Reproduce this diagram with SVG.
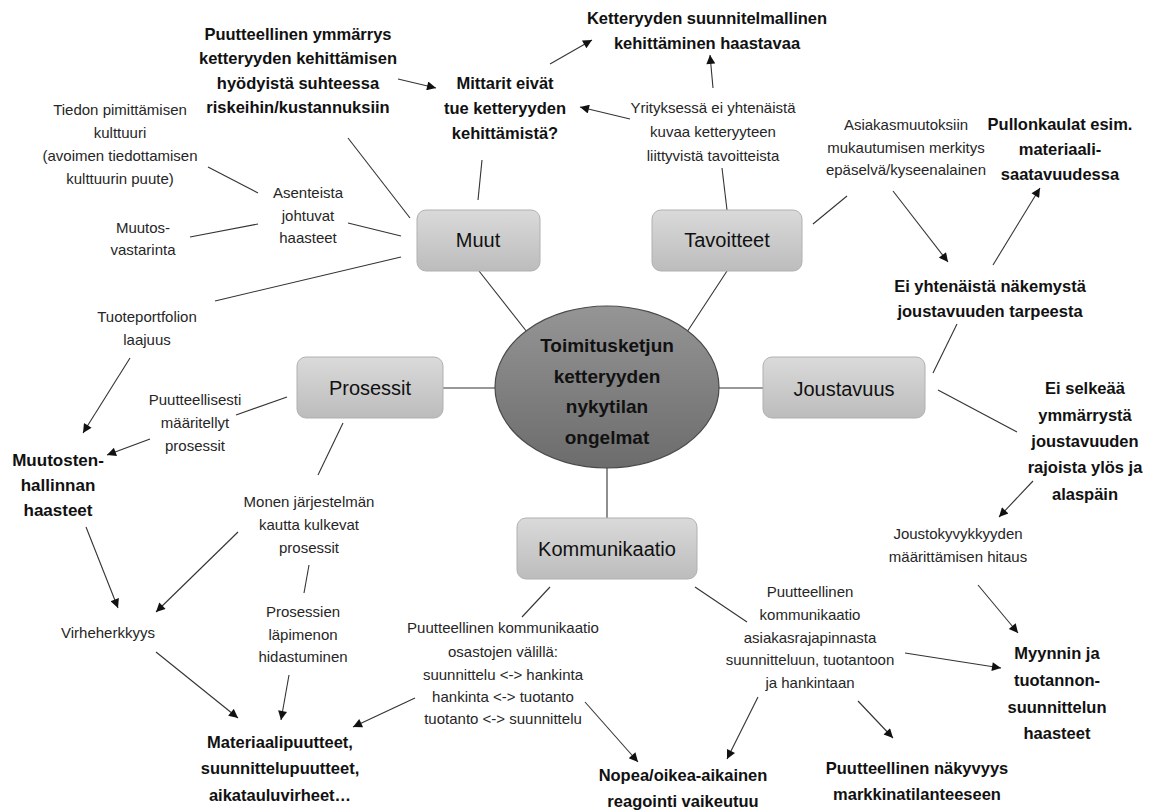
<svg xmlns="http://www.w3.org/2000/svg" width="1154" height="812" viewBox="0 0 1154 812">
  <defs>
    <linearGradient id="boxFill" x1="0" y1="0" x2="0" y2="1">
      <stop offset="0" stop-color="#dadada"/>
      <stop offset="1" stop-color="#bcbcbc"/>
    </linearGradient>
    <linearGradient id="hubFill" x1="0" y1="0" x2="0" y2="1">
      <stop offset="0" stop-color="#959595"/>
      <stop offset="1" stop-color="#6c6c6c"/>
    </linearGradient>
    <marker id="arrow" viewBox="0 0 10 10" refX="10" refY="5" markerWidth="11" markerHeight="9" markerUnits="userSpaceOnUse" orient="auto">
      <path d="M0,0 L10,5 L0,10 z" fill="#111"/>
    </marker>
  </defs>
  <style>
    .box { fill: url(#boxFill); stroke: #b0b0b0; stroke-width: 1; }
    .hub { fill: url(#hubFill); stroke: #4a4a4a; stroke-width: 1.2; }
    .node-label { font-family: "Liberation Sans", Arial, sans-serif; font-size: 20px; fill: #111; text-anchor: middle; }
    .hub-label { font-family: "Liberation Sans", Arial, sans-serif; font-size: 19px; font-weight: bold; fill: #111; text-anchor: middle; }
    .b { font-family: "Liberation Sans", Arial, sans-serif; font-size: 16.5px; font-weight: bold; fill: #111; text-anchor: middle; }
    .r { font-family: "Liberation Sans", Arial, sans-serif; font-size: 15px; fill: #262626; text-anchor: middle; }
    .edge { stroke: #333; stroke-width: 1.1; fill: none; }
    .edge.arr { marker-end: url(#arrow); }
  </style>
  <rect width="1154" height="812" fill="#fff"/>

  <!-- connectors -->
  <g id="connectors">
    <!-- hub spokes -->
    <line class="edge" x1="527" y1="332" x2="479" y2="271"/>
    <line class="edge" x1="687" y1="332" x2="727" y2="271"/>
    <line class="edge" x1="443" y1="388" x2="495" y2="388"/>
    <line class="edge" x1="719" y1="388" x2="763" y2="388"/>
    <line class="edge" x1="607" y1="467" x2="607" y2="518"/>
    <!-- Muut branch -->
    <line class="edge" x1="478" y1="200" x2="482" y2="160"/>
    <line class="edge" x1="348" y1="138" x2="410" y2="218"/>
    <line class="edge" x1="348" y1="223" x2="401" y2="236"/>
    <line class="edge" x1="401" y1="257" x2="215" y2="301"/>
    <line class="edge" x1="208" y1="167" x2="258" y2="193"/>
    <line class="edge" x1="190" y1="237" x2="258" y2="224"/>
    <line class="edge arr" x1="398" y1="79" x2="436" y2="88"/>
    <line class="edge arr" x1="550" y1="64" x2="592" y2="40"/>
    <!-- Tavoitteet branch -->
    <line class="edge" x1="727" y1="210" x2="722" y2="168"/>
    <line class="edge arr" x1="713" y1="88" x2="710" y2="55"/>
    <line class="edge arr" x1="630" y1="119" x2="580" y2="107"/>
    <line class="edge" x1="813" y1="224" x2="847" y2="196"/>
    <line class="edge arr" x1="893" y1="191" x2="948" y2="262"/>
    <line class="edge arr" x1="993" y1="265" x2="1040" y2="188"/>
    <!-- Joustavuus branch -->
    <line class="edge" x1="933" y1="373" x2="957" y2="324"/>
    <line class="edge" x1="938" y1="390" x2="1017" y2="432"/>
    <line class="edge arr" x1="1033" y1="481" x2="999" y2="517"/>
    <line class="edge arr" x1="978" y1="585" x2="1018" y2="633"/>
    <!-- Kommunikaatio branch -->
    <line class="edge" x1="695" y1="587" x2="747" y2="622"/>
    <line class="edge arr" x1="905" y1="653" x2="1001" y2="668"/>
    <line class="edge arr" x1="858" y1="701" x2="893" y2="738"/>
    <line class="edge arr" x1="758" y1="697" x2="727" y2="759"/>
    <line class="edge" x1="550" y1="587" x2="522" y2="617"/>
    <line class="edge arr" x1="585" y1="702" x2="638" y2="762"/>
    <line class="edge arr" x1="415" y1="698" x2="353" y2="727"/>
    <!-- Prosessit branch -->
    <line class="edge" x1="287" y1="397" x2="236" y2="415"/>
    <line class="edge arr" x1="150" y1="439" x2="107" y2="455"/>
    <line class="edge arr" x1="130" y1="358" x2="83" y2="433"/>
    <line class="edge" x1="343" y1="423" x2="318" y2="475"/>
    <line class="edge arr" x1="238" y1="532" x2="156" y2="612"/>
    <line class="edge arr" x1="86" y1="527" x2="118" y2="608"/>
    <line class="edge" x1="309" y1="565" x2="304" y2="593"/>
    <line class="edge arr" x1="156" y1="652" x2="238" y2="718"/>
    <line class="edge arr" x1="289" y1="675" x2="281" y2="720"/>
  </g>

  <!-- central topic -->
  <g id="hub">
    <ellipse class="hub" cx="607" cy="387" rx="112" ry="81"/>
    <text class="hub-label" x="607" y="352">Toimitusketjun</text>
    <text class="hub-label" x="607" y="383">ketteryyden</text>
    <text class="hub-label" x="607" y="413">nykytilan</text>
    <text class="hub-label" x="607" y="444">ongelmat</text>
  </g>

  <!-- category nodes -->
  <g id="node-muut">
    <rect class="box" x="417" y="210" width="123" height="61" rx="9"/>
    <text class="node-label" x="478" y="247">Muut</text>
  </g>
  <g id="node-tavoitteet">
    <rect class="box" x="652" y="210" width="150" height="61" rx="9"/>
    <text class="node-label" x="727" y="247">Tavoitteet</text>
  </g>
  <g id="node-prosessit">
    <rect class="box" x="297" y="357" width="146" height="61" rx="9"/>
    <text class="node-label" x="370" y="395">Prosessit</text>
  </g>
  <g id="node-joustavuus">
    <rect class="box" x="763" y="357" width="162" height="61" rx="9"/>
    <text class="node-label" x="844" y="396">Joustavuus</text>
  </g>
  <g id="node-kommunikaatio">
    <rect class="box" x="517" y="518" width="180" height="61" rx="9"/>
    <text class="node-label" x="607" y="556">Kommunikaatio</text>
  </g>

  <!-- Muut: issues -->
  <g id="puutteellinen-ymmarrys">
    <text class="b" x="298" y="40">Puutteellinen ymmärrys</text>
    <text class="b" x="298" y="64">ketteryyden kehittämisen</text>
    <text class="b" x="298" y="89">hyödyistä suhteessa</text>
    <text class="b" x="298" y="113">riskeihin/kustannuksiin</text>
  </g>
  <g id="mittarit">
    <text class="b" x="505" y="89">Mittarit eivät</text>
    <text class="b" x="505" y="114">tue ketteryyden</text>
    <text class="b" x="505" y="139">kehittämistä?</text>
  </g>
  <g id="tiedon-pimittaminen">
    <text class="r" x="120" y="115">Tiedon pimittämisen</text>
    <text class="r" x="120" y="138">kulttuuri</text>
    <text class="r" x="120" y="161">(avoimen tiedottamisen</text>
    <text class="r" x="120" y="184">kulttuurin puute)</text>
  </g>
  <g id="asenteista">
    <text class="r" x="308" y="198">Asenteista</text>
    <text class="r" x="308" y="221">johtuvat</text>
    <text class="r" x="308" y="243">haasteet</text>
  </g>
  <g id="muutosvastarinta">
    <text class="r" x="143" y="233">Muutos-</text>
    <text class="r" x="143" y="255">vastarinta</text>
  </g>
  <g id="tuoteportfolio">
    <text class="r" x="147" y="322">Tuoteportfolion</text>
    <text class="r" x="147" y="345">laajuus</text>
  </g>

  <!-- Tavoitteet: issues -->
  <g id="suunnitelmallinen">
    <text class="b" x="707" y="24">Ketteryyden suunnitelmallinen</text>
    <text class="b" x="707" y="49">kehittäminen haastavaa</text>
  </g>
  <g id="yrityksessa">
    <text class="r" x="713" y="113">Yrityksessä ei yhtenäistä</text>
    <text class="r" x="713" y="137">kuvaa ketteryyteen</text>
    <text class="r" x="713" y="161">liittyvistä tavoitteista</text>
  </g>
  <g id="asiakasmuutokset">
    <text class="r" x="906" y="130">Asiakasmuutoksiin</text>
    <text class="r" x="906" y="153">mukautumisen merkitys</text>
    <text class="r" x="906" y="175">epäselvä/kyseenalainen</text>
  </g>
  <g id="pullonkaulat">
    <text class="b" x="1060" y="130">Pullonkaulat esim.</text>
    <text class="b" x="1060" y="155">materiaali-</text>
    <text class="b" x="1060" y="180">saatavuudessa</text>
  </g>

  <!-- Joustavuus: issues -->
  <g id="ei-yhtenaista">
    <text class="b" x="990" y="292">Ei yhtenäistä näkemystä</text>
    <text class="b" x="990" y="317">joustavuuden tarpeesta</text>
  </g>
  <g id="ei-selkeaa">
    <text class="b" x="1085" y="394">Ei selkeää</text>
    <text class="b" x="1085" y="421">ymmärrystä</text>
    <text class="b" x="1085" y="447">joustavuuden</text>
    <text class="b" x="1085" y="473">rajoista ylös ja</text>
    <text class="b" x="1085" y="500">alaspäin</text>
  </g>
  <g id="joustokyvykkyys">
    <text class="r" x="958" y="539">Joustokyvykkyyden</text>
    <text class="r" x="958" y="562">määrittämisen hitaus</text>
  </g>
  <g id="myynti">
    <text class="b" x="1057" y="659">Myynnin ja</text>
    <text class="b" x="1057" y="686">tuotannon-</text>
    <text class="b" x="1057" y="713">suunnittelun</text>
    <text class="b" x="1057" y="739">haasteet</text>
  </g>

  <!-- Kommunikaatio: issues -->
  <g id="asiakasrajapinta">
    <text class="r" x="810" y="597">Puutteellinen</text>
    <text class="r" x="810" y="620">kommunikaatio</text>
    <text class="r" x="810" y="643">asiakasrajapinnasta</text>
    <text class="r" x="810" y="665">suunnitteluun, tuotantoon</text>
    <text class="r" x="810" y="688">ja hankintaan</text>
  </g>
  <g id="osastot">
    <text class="r" x="503" y="633">Puutteellinen kommunikaatio</text>
    <text class="r" x="503" y="657">osastojen välillä:</text>
    <text class="r" x="503" y="680">suunnittelu &lt;-&gt; hankinta</text>
    <text class="r" x="503" y="702">hankinta &lt;-&gt; tuotanto</text>
    <text class="r" x="503" y="724">tuotanto &lt;-&gt; suunnittelu</text>
  </g>
  <g id="nakyvyys">
    <text class="b" x="917" y="774">Puutteellinen näkyvyys</text>
    <text class="b" x="917" y="800">markkinatilanteeseen</text>
  </g>
  <g id="reagointi">
    <text class="b" x="683" y="781">Nopea/oikea-aikainen</text>
    <text class="b" x="683" y="807">reagointi vaikeutuu</text>
  </g>

  <!-- Prosessit: issues -->
  <g id="maarittely">
    <text class="r" x="195" y="405">Puutteellisesti</text>
    <text class="r" x="195" y="428">määritellyt</text>
    <text class="r" x="195" y="451">prosessit</text>
  </g>
  <g id="muutostenhallinta">
    <text class="b" x="58" y="466" style="font-size:17px">Muutosten-</text>
    <text class="b" x="58" y="491" style="font-size:17px">hallinnan</text>
    <text class="b" x="58" y="516" style="font-size:17px">haasteet</text>
  </g>
  <g id="jarjestelmat">
    <text class="r" x="309" y="507">Monen järjestelmän</text>
    <text class="r" x="309" y="530">kautta kulkevat</text>
    <text class="r" x="309" y="553">prosessit</text>
  </g>
  <g id="lapimeno">
    <text class="r" x="303" y="617">Prosessien</text>
    <text class="r" x="303" y="640">läpimenon</text>
    <text class="r" x="303" y="662">hidastuminen</text>
  </g>
  <g id="virheherkkyys">
    <text class="r" x="108" y="638">Virheherkkyys</text>
  </g>
  <g id="puutteet">
    <text class="b" x="280" y="748">Materiaalipuutteet,</text>
    <text class="b" x="280" y="774">suunnittelupuutteet,</text>
    <text class="b" x="280" y="801">aikatauluvirheet…</text>
  </g>
</svg>
